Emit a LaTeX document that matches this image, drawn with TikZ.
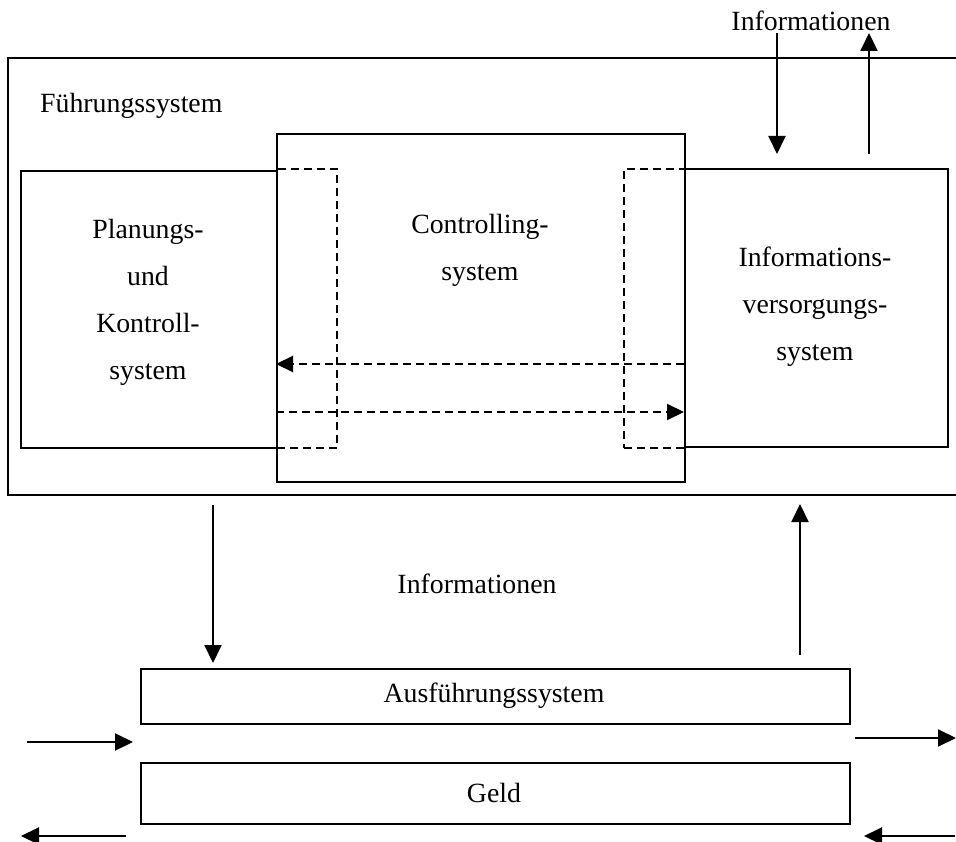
\documentclass[tikz,border=0pt]{standalone}
\usepackage{fontspec}
\setmainfont{Liberation Serif}
\usetikzlibrary{arrows.meta}
\begin{document}
\begin{tikzpicture}[x=1pt,y=-1pt,
  every node/.style={font=\fontsize{27.8}{47}\selectfont},
  box/.style={draw,line width=2pt,rectangle,inner sep=0pt,anchor=north west},
  dbox/.style={draw,line width=2pt,dash pattern=on 8pt off 5pt,rectangle,inner sep=0pt,anchor=north west},
  lbl/.style={align=center,inner sep=0pt},
  arr/.style={line width=2pt,-{Triangle[length=18pt,width=17pt]}},
  darr/.style={line width=2pt,dash pattern=on 8pt off 5pt,-{Triangle[length=17pt,width=16pt]}}
]
\useasboundingbox (0,0) rectangle (956,842);
% outer frame (open on the right)
\draw[line width=2pt] (956,58) -- (8,58) -- (8,495) -- (956,495);
% boxes
\node[box,minimum width=256pt,minimum height=277pt] (plan) at (20,170) {};
\node[box,minimum width=408pt,minimum height=348pt] (ctrl) at (276,133) {};
\node[box,minimum width=263pt,minimum height=278pt] (info) at (684,168) {};
\node[dbox,minimum width=60pt,minimum height=279pt] (dl) at (276,168) {};
\node[dbox,minimum width=61pt,minimum height=279pt] (dr) at (623,168) {};
\node[box,minimum width=709pt,minimum height=55pt] (aus) at (140,668) {};
\node[box,minimum width=709pt,minimum height=61pt] (geld) at (140,762) {};
% labels
\node[lbl,anchor=west] (fs) at (40,106) {Führungssystem};
\node[lbl] (tplan) at (148,302) {Planungs-\\und\\Kontroll-\\system};
\node[lbl] (tctrl) at (480,250) {Controlling-\\system};
\node[lbl] (tinfo) at (815,307) {Informations-\\versorgungs-\\system};
\node[lbl] (itop) at (811,21) {Informationen};
\node[lbl] (imid) at (477,584) {Informationen};
\node[lbl] (taus) at (494,696) {Ausführungssystem};
\node[lbl] (tgeld) at (494,793) {Geld};
% coordinates for connectors
\coordinate (a1s) at (777,33);
\coordinate (a1e) at (777,154);
\coordinate (a2s) at (869,154);
\coordinate (a2e) at (869,33);
\coordinate (b1s) at (213,505);
\coordinate (b1e) at (213,663);
\coordinate (b2s) at (800,655);
\coordinate (b2e) at (800,504);
\coordinate (c1s) at (27,742);
\coordinate (c1e) at (133,742);
\coordinate (c2s) at (126,836);
\coordinate (c2e) at (21,836);
\coordinate (c3s) at (855,738);
\coordinate (c3e) at (956,738);
\coordinate (c4s) at (955,836);
\coordinate (c4e) at (864,836);
\coordinate (d1s) at (684,364);
\coordinate (d1e) at (276,364);
\coordinate (d2s) at (276,412);
\coordinate (d2e) at (684,412);
% arrows
\draw[arr] (a1s) -- (a1e);
\draw[arr] (a2s) -- (a2e);
\draw[arr] (b1s) -- (b1e);
\draw[arr] (b2s) -- (b2e);
\draw[arr] (c1s) -- (c1e);
\draw[arr] (c2s) -- (c2e);
\draw[arr] (c3s) -- (c3e);
\draw[arr] (c4s) -- (c4e);
\draw[darr] (d1s) -- (d1e);
\draw[darr] (d2s) -- (d2e);
\end{tikzpicture}
\end{document}
